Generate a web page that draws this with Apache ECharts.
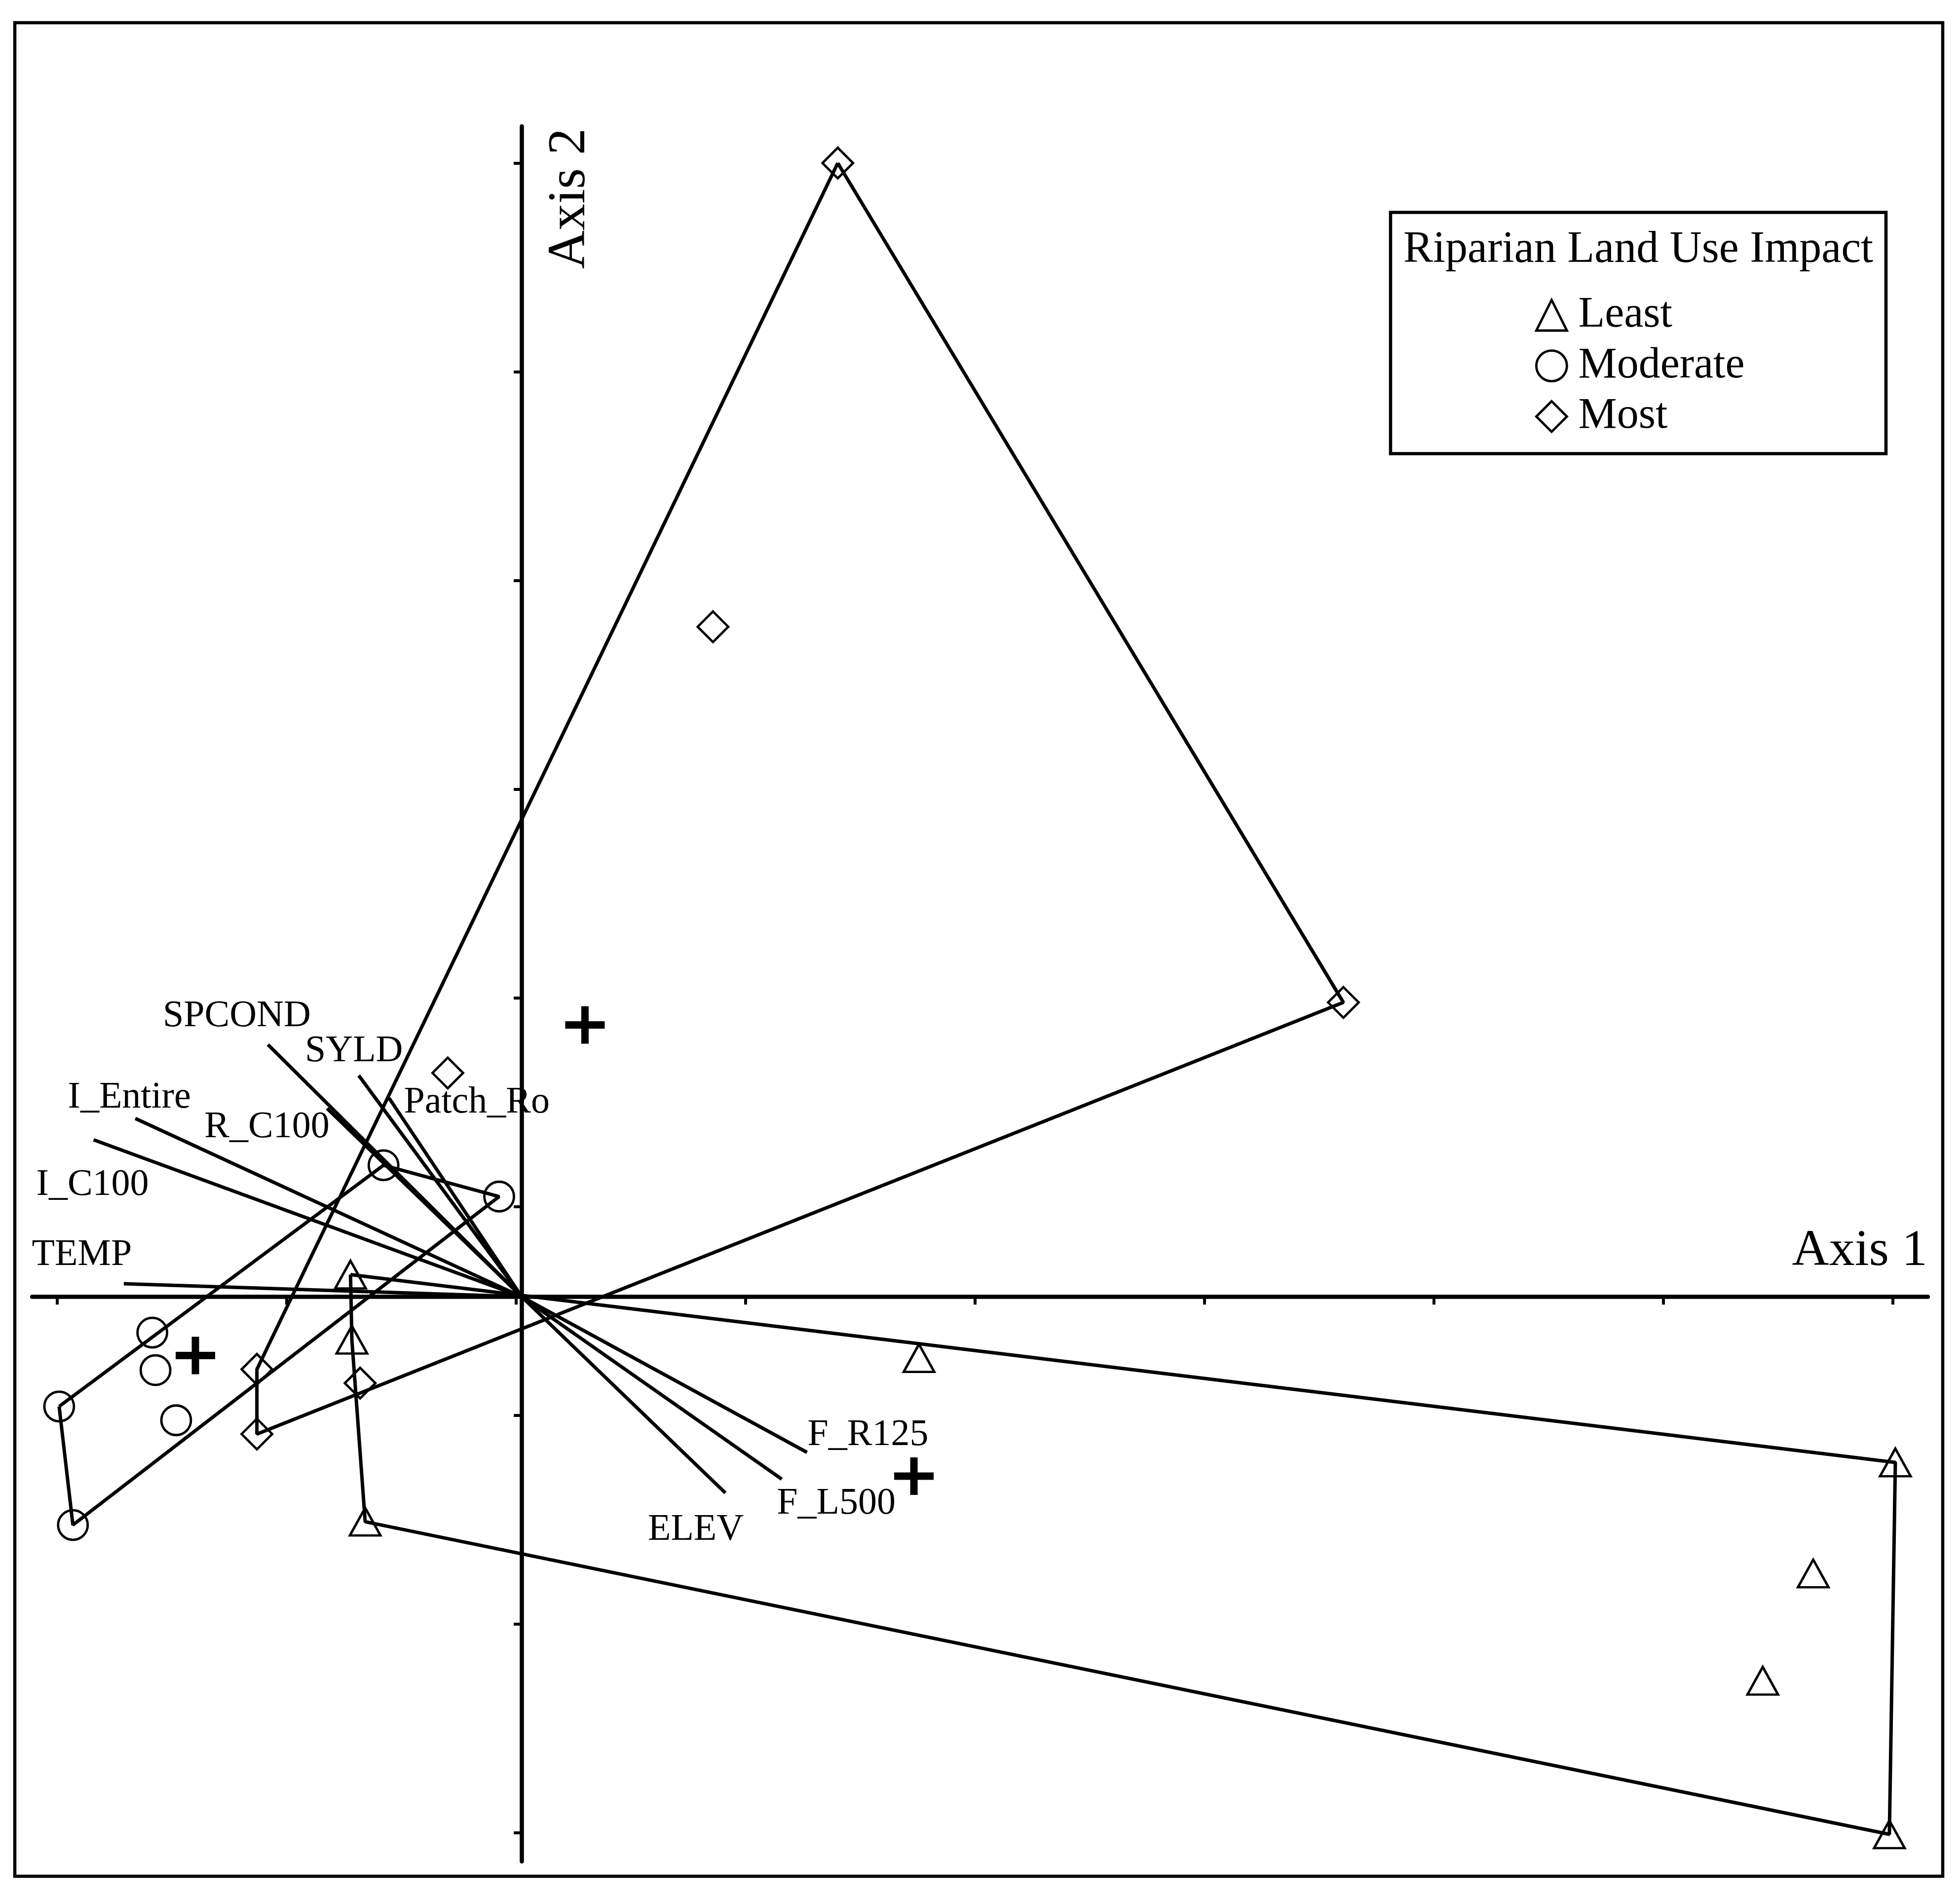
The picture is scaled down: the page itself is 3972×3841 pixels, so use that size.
<!DOCTYPE html>
<html><head><meta charset="utf-8">
<script src="https://cdn.jsdelivr.net/npm/echarts@6/dist/echarts.min.js"></script>
<style>html,body{margin:0;padding:0;background:#fff}#c{width:3972px;height:3841px}</style>
</head><body><div id="c"></div>
<script>
// ---------- DATA (ordination scores) ----------
const groupNames = ['Least', 'Moderate', 'Most'];
const leastPoints = [[-0.373, 0.053], [-0.370, -0.103], [-0.341, -0.539], [0.866, -0.147],
                     [2.994, -0.397], [2.815, -0.663], [2.705, -0.920], [2.981, -1.288]];
const moderatePoints = [[-0.301, 0.315], [-0.049, 0.240], [-0.805, -0.086], [-0.798, -0.176],
                        [-0.753, -0.296], [-1.008, -0.263], [-0.978, -0.547]];
const mostPoints = [[0.689, 2.716], [0.417, 1.605], [1.791, 0.705], [-0.161, 0.536],
                    [-0.577, -0.174], [-0.577, -0.329], [-0.352, -0.207]];
// convex hull vertex order (indices into the point arrays)
const leastHull = [0, 4, 7, 2, 1, 0];
const moderateHull = [5, 6, 1, 0, 5];
const mostHull = [0, 2, 5, 4, 0];
// group centroids: Least, Moderate, Most
const centroids = [[0.855, -0.430], [-0.711, -0.141], [0.138, 0.651]];
// joint-plot vectors
const vectorNames = ['SPCOND', 'SYLD', 'Patch_Ro', 'R_C100', 'I_Entire', 'I_C100', 'TEMP', 'F_R125', 'F_L500', 'ELEV'];
const vectorX = [-0.553, -0.355, -0.289, -0.424, -0.842, -0.933, -0.867, 0.622, 0.567, 0.444];
const vectorY = [0.604, 0.530, 0.476, 0.451, 0.427, 0.376, 0.031, -0.373, -0.437, -0.470];
// tick positions (unlabelled ticks)
const xTickValues = [-1.012, -0.512, -0.012, 0.488, 0.988, 1.488, 1.988, 2.488, 2.988];
const yTickValues = [2.716, 2.216, 1.716, 1.216, 0.716, 0.216, -0.284, -0.784, -1.284];
const axisTitles = ['Axis 1', 'Axis 2'];
const legendTitle = 'Riparian Land Use Impact';

// ---------- STYLE ----------
const FONT = '"Liberation Serif", "Times New Roman", serif';
const labelOffsets = {
  SPCOND: [-213, -57.5], SYLD: [-109, -48.6], Patch_Ro: [30, 9.4], R_C100: [-248.5, 38],
  I_Entire: [-136.6, -41.8], I_C100: [-116, 92.2], TEMP: [-186.5, -57.6],
  F_R125: [1, -35], F_L500: [-10, 49.7], ELEV: [-157, 75.2]
};
const markerStyle = { color: 'rgba(0,0,0,0)', borderColor: '#000', borderWidth: 4.8, opacity: 1 };
const LW = 7;
const plusPath = 'path://M32.5,0H47.5V30.5H80V45.5H47.5V76H32.5V45.5H0V30.5H32.5Z';

const chart = echarts.init(document.getElementById('c'), null, { renderer: 'canvas' });

const hullSeries = (pts, order) => ({
  type: 'line', data: order.map(i => pts[i]), symbol: 'none', showSymbol: false,
  lineStyle: { color: '#000', width: LW, opacity: 1 }, silent: true, z: 3, animation: false
});

chart.setOption({
  animation: false,
  backgroundColor: '#fff',
  textStyle: { fontFamily: FONT },
  grid: { left: 65, right: 65, top: 256, bottom: 68, containLabel: false },
  xAxis: {
    type: 'value', min: -1.067, max: 3.065,
    axisLine: { onZero: true, lineStyle: { color: '#000', width: 8.5 } },
    axisTick: { show: true, inside: false, length: 16, customValues: xTickValues,
                lineStyle: { color: '#000', width: 6 } },
    axisLabel: { show: false }, splitLine: { show: false }
  },
  yAxis: {
    type: 'value', min: -1.353, max: 2.804,
    axisLine: { onZero: true, lineStyle: { color: '#000', width: 8.5 } },
    axisTick: { show: true, inside: false, length: 16, customValues: yTickValues,
                lineStyle: { color: '#000', width: 6 } },
    axisLabel: { show: false }, splitLine: { show: false }
  },
  legend: {
    data: groupNames, orient: 'vertical', left: 3111, top: 595, padding: 0,
    itemWidth: 62, itemHeight: 62, itemGap: 14.6, selectedMode: false,
    itemStyle: { color: 'rgba(0,0,0,0)', borderColor: '#000', borderWidth: 4.8, opacity: 1 },
    textStyle: { fontFamily: FONT, fontSize: 88, color: '#000', padding: [0, 0, 0, 18] }
  },
  graphic: [
    { type: 'rect', silent: true, shape: { x: 30, y: 46, width: 3907, height: 3757 },
      style: { fill: 'none', stroke: '#000', lineWidth: 6.5 } },
    { type: 'rect', silent: true, shape: { x: 2818, y: 430.5, width: 1004, height: 489 },
      style: { fill: 'none', stroke: '#000', lineWidth: 6.5 } },
    { type: 'text', silent: true, x: 3320, y: 507,
      style: { text: legendTitle, font: '90px ' + FONT, fill: '#000',
               align: 'center', textAlign: 'center', verticalAlign: 'middle', textVerticalAlign: 'middle' } },
    { type: 'text', silent: true, x: 3906, y: 2536.6,
      style: { text: axisTitles[0], font: '104px ' + FONT, fill: '#000',
               align: 'right', textAlign: 'right', verticalAlign: 'middle', textVerticalAlign: 'middle' } },
    { type: 'text', silent: true, x: 1155.5, y: 260, rotation: Math.PI / 2,
      style: { text: axisTitles[1], font: '108px ' + FONT, fill: '#000',
               align: 'right', textAlign: 'right', verticalAlign: 'middle', textVerticalAlign: 'middle' } }
  ],
  series: [
    hullSeries(leastPoints, leastHull),
    hullSeries(moderatePoints, moderateHull),
    hullSeries(mostPoints, mostHull),
    {
      type: 'lines', coordinateSystem: 'cartesian2d', silent: true, z: 3,
      lineStyle: { color: '#000', width: LW, opacity: 1, curveness: 0 },
      data: vectorNames.map((n, i) => ({ coords: [[0, 0], [vectorX[i], vectorY[i]]] }))
    },
    {
      type: 'scatter', silent: true, z: 6, symbolSize: 1,
      itemStyle: { color: 'rgba(0,0,0,0)', opacity: 1 },
      label: { show: true, position: 'inside', formatter: '{b}', align: 'left', verticalAlign: 'middle',
               fontFamily: FONT, fontSize: 76, color: '#000', opacity: 1 },
      data: vectorNames.map((n, i) => ({ name: n, value: [vectorX[i], vectorY[i]], label: { offset: labelOffsets[n] } }))
    },
    { name: 'Least', type: 'scatter', data: leastPoints, symbol: 'triangle', symbolSize: [62, 56],
      itemStyle: markerStyle, silent: true, z: 5 },
    { name: 'Moderate', type: 'scatter', data: moderatePoints, symbol: 'circle', symbolSize: 60,
      itemStyle: markerStyle, silent: true, z: 5 },
    { name: 'Most', type: 'scatter', data: mostPoints, symbol: 'diamond', symbolSize: 62,
      itemStyle: markerStyle, silent: true, z: 5 },
    { name: 'Centroids', type: 'scatter', data: centroids, symbol: plusPath, symbolSize: [80, 76],
      itemStyle: { color: '#000', borderWidth: 0, opacity: 1 }, silent: true, z: 5 }
  ]
});
</script>
</body></html>
